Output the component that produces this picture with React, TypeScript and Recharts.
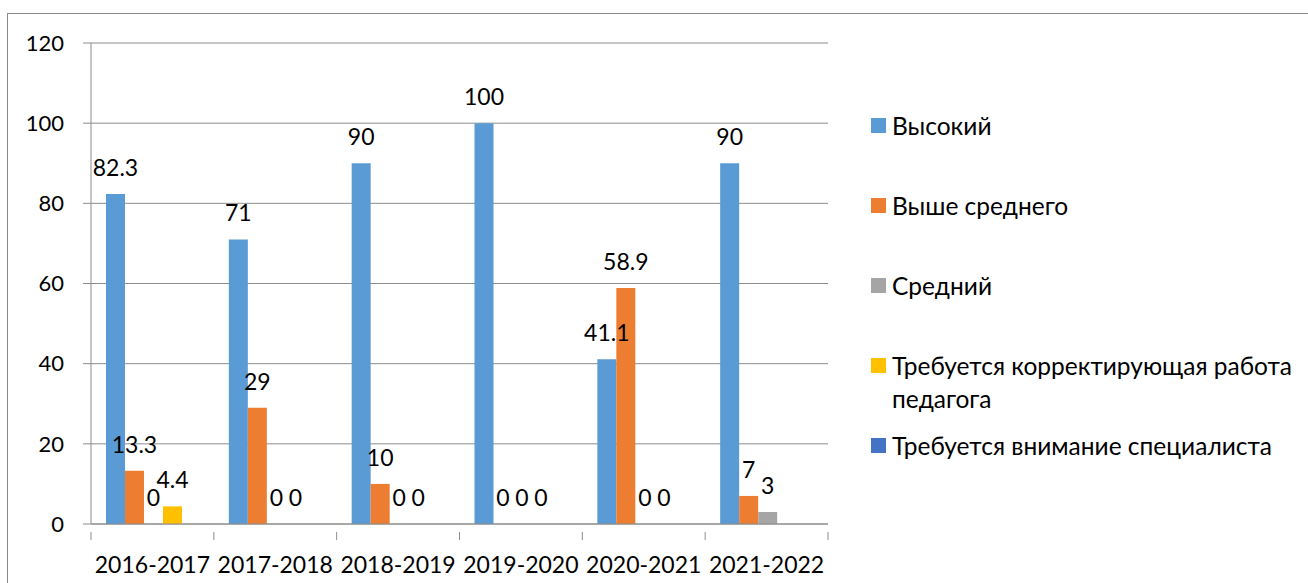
import React from "react";
import { Bar, BarChart, CartesianGrid, LabelList, XAxis, YAxis } from "recharts";

const years = ["2016-2017", "2017-2018", "2018-2019", "2019-2020", "2020-2021", "2021-2022"];
const high = [82.3, 71, 90, 100, 41.1, 90];
const aboveAverage = [13.3, 29, 10, 0, 58.9, 7];
const average = [0, 0, 0, 0, 0, 3];
const correction = [4.4, 0, 0, 0, 0, null];
const specialist = [null, null, null, null, null, null];
const yTicks = [0, 20, 40, 60, 80, 100, 120];

const series = [
  { key: "high", name: "Высокий", color: "#5B9BD5", values: high },
  { key: "above", name: "Выше среднего", color: "#ED7D31", values: aboveAverage },
  { key: "avg", name: "Средний", color: "#A5A5A5", values: average },
  { key: "corr", name: "Требуется корректирующая работа педагога", color: "#FFC000", values: correction },
  { key: "spec", name: "Требуется внимание специалиста", color: "#4472C4", values: specialist },
];

const data = years.map((year, i) => {
  const row: Record<string, string | number | null> = { year };
  series.forEach((s) => {
    row[s.key] = s.values[i];
  });
  return row;
});

const FONT = "Lato, 'Open Sans', sans-serif";
const GRID = "#8c8c8c";
const CHART_W = 830;
const CHART_H = 580;
const MARGIN = { top: 29, right: 10, bottom: 0, left: 0 };
const Y_AXIS_W = 83;
const bandWidth = (CHART_W - MARGIN.left - MARGIN.right - Y_AXIS_W) / years.length;

function CategoryTick(props: any) {
  const { x, y, payload, index } = props;
  const left = x - bandWidth / 2;
  const right = x + bandWidth / 2;
  return (
    <g>
      <line x1={left} x2={left} y1={y} y2={y + 8} stroke={GRID} />
      {index === years.length - 1 && <line x1={right} x2={right} y1={y} y2={y + 8} stroke={GRID} />}
      <text x={x} y={y + 25} dy="0.71em" textAnchor="middle" fontSize={23} fontFamily={FONT} fill="#000">
        {payload.value}
      </text>
    </g>
  );
}

export default function App() {
  return (
    <div
      style={{
        position: "absolute",
        left: 7,
        top: 13,
        width: 1320,
        height: 600,
        border: "1px solid #898989",
        background: "#fff",
      }}
    >
      <BarChart width={CHART_W} height={CHART_H} data={data} margin={MARGIN} barCategoryGap={15} barGap={0}>
        <CartesianGrid vertical={false} stroke={GRID} />
        <XAxis
          dataKey="year"
          height={70}
          tickLine={false}
          axisLine={{ stroke: GRID }}
          interval={0}
          tick={<CategoryTick />}
        />
        <YAxis
          width={Y_AXIS_W}
          domain={[0, 120]}
          ticks={yTicks}
          tickSize={8}
          tickMargin={19}
          tickLine={{ stroke: GRID }}
          axisLine={{ stroke: GRID }}
          tick={{ fontSize: 22, fontFamily: FONT, fill: "#000" }}
        />
        {series.map((s) => (
          <Bar
            key={s.key}
            dataKey={s.key}
            name={s.name}
            fill={s.color}
            minPointSize={0.01}
            isAnimationActive={false}
          >
            <LabelList dataKey={s.key} position="top" offset={18} fontSize={23} fontFamily={FONT} fill="#000" />
          </Bar>
        ))}
      </BarChart>
      {series.map((s, i) => (
        <div
          key={s.key}
          style={{
            position: "absolute",
            left: 863,
            top: 94.5 + i * 80,
            width: 430,
            display: "flex",
            alignItems: "flex-start",
            fontFamily: FONT,
            fontSize: 24.5,
            lineHeight: "33px",
            color: "#000",
          }}
        >
          <span style={{ width: 15, height: 15, background: s.color, marginTop: 9, marginRight: 6, flex: "none" }} />
          <span>{s.name}</span>
        </div>
      ))}
    </div>
  );
}
